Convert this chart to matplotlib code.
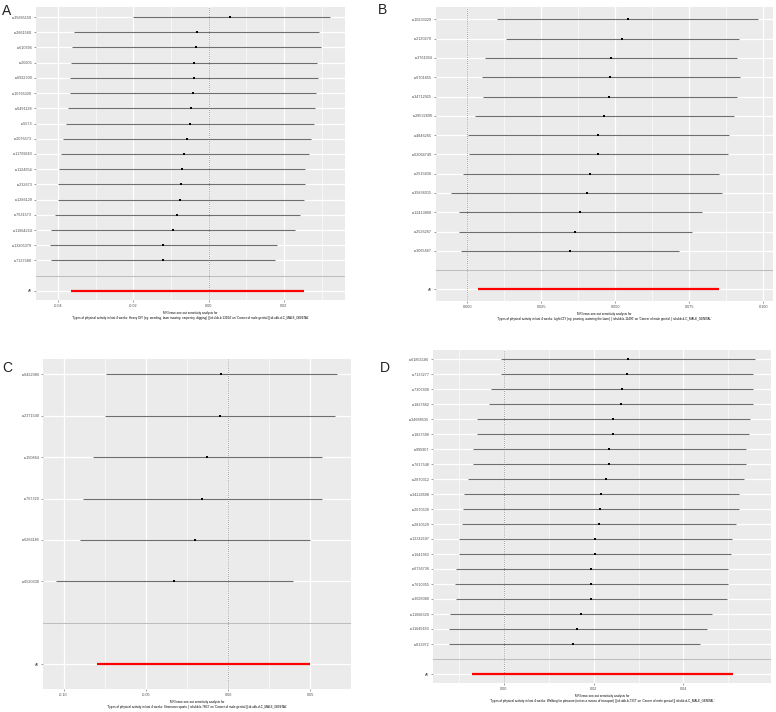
import matplotlib
matplotlib.use("Agg")
import matplotlib.pyplot as plt
import numpy as np

# ---------------- data ----------------
A_snps = ["rs35685150", "rs2661560", "rs610394", "rs20205", "rs6932300", "rs10765320",
          "rs6491128", "rs5573", "rs2076573", "rs11769840", "rs1124654", "rs232673",
          "rs1286129", "rs7631573", "rs11664224", "rs13205379", "rs7137580"]
A_b = [0.0058, -0.0032, -0.0034, -0.0039, -0.0040, -0.0042, -0.0046, -0.0049, -0.0056,
       -0.0064, -0.0071, -0.0073, -0.0075, -0.0083, -0.0095, -0.0120, -0.0122]
A_lo = [-0.0201, -0.0357, -0.0363, -0.0366, -0.0369, -0.0368, -0.0374, -0.0378, -0.0386,
        -0.0392, -0.0397, -0.0399, -0.0400, -0.0408, -0.0417, -0.0420, -0.0419]
A_hi = [0.0323, 0.0294, 0.0298, 0.0289, 0.0291, 0.0286, 0.0283, 0.0281, 0.0273,
        0.0266, 0.0257, 0.0255, 0.0252, 0.0243, 0.0230, 0.0182, 0.0177]
A_all = (-0.0057, -0.0366, 0.0252)
A_ticks = [-0.04, -0.02, 0.00, 0.02]
A_ticklabels = ["-0.04", "-0.02", "0.00", "0.02"]
A_title = ("MR leave-one-out sensitivity analysis for\n'Types of physical activity in last 4 weeks: "
           "Heavy DIY (eg: weeding, lawn mowing, carpentry, digging) || id:ukb-b-13184' on "
           "'Cancer of male genital || id:ukb-d-C_MALE_GENITAL'")

B_snps = ["rs10233329", "rs2130270", "rs3761934", "rs6701855", "rs34712925", "rs28532699",
          "rs4846265", "rs62064749", "rs2515836", "rs35836015", "rs12413860", "rs2526267",
          "rs3065667"]
B_b = [0.0542, 0.0524, 0.0485, 0.0483, 0.0479, 0.0461, 0.0443, 0.0443, 0.0416, 0.0403,
       0.0381, 0.0365, 0.0347]
B_lo = [0.0099, 0.0131, 0.0060, 0.0051, 0.0052, 0.0025, 0.0003, 0.0006, -0.0016, -0.0054,
        -0.0028, -0.0028, -0.0021]
B_hi = [0.0983, 0.0917, 0.0913, 0.0920, 0.0910, 0.0900, 0.0883, 0.0882, 0.0850, 0.0861,
        0.0793, 0.0758, 0.0716]
B_all = (0.0443, 0.0036, 0.0850)
B_ticks = [0.000, 0.025, 0.050, 0.075, 0.100]
B_ticklabels = ["0.000", "0.025", "0.050", "0.075", "0.100"]
B_title = ("MR leave-one-out sensitivity analysis for\n'Types of physical activity in last 4 weeks: "
           "Light DIY (eg: pruning, watering the lawn) || id:ukb-b-11490' on "
           "'Cancer of male genital || id:ukb-d-C_MALE_GENITAL'")

C_snps = ["rs6422086", "rs2371540", "rs150864", "rs767320", "rs6266185", "rs6520330"]
C_b = [-0.0045, -0.0049, -0.0126, -0.0158, -0.0202, -0.0326]
C_lo = [-0.0743, -0.0747, -0.0822, -0.0883, -0.0901, -0.1043]
C_hi = [0.0660, 0.0652, 0.0571, 0.0573, 0.0496, 0.0393]
C_all = (-0.0150, -0.0794, 0.0496)
C_ticks = [-0.10, -0.05, 0.00, 0.05]
C_ticklabels = ["-0.10", "-0.05", "0.00", "0.05"]
C_title = ("MR leave-one-out sensitivity analysis for\n'Types of physical activity in last 4 weeks: "
           "Strenuous sports || id:ukb-b-7663' on 'Cancer of male genital || id:ukb-d-C_MALE_GENITAL'")

D_snps = ["rs61855186", "rs7133277", "rs7307400", "rs1827662", "rs34688535", "rs1827599",
          "rs995907", "rs7617548", "rs2870312", "rs34224598", "rs2670539", "rs2810529",
          "rs12342197", "rs1641943", "rs6736736", "rs7610355", "rs3028080", "rs11668320",
          "rs11649180", "rs813972"]
D_b = [0.0277, 0.0275, 0.0263, 0.0260, 0.0243, 0.0243, 0.0233, 0.0234, 0.0227, 0.0217,
       0.0215, 0.0211, 0.0203, 0.0202, 0.0195, 0.0194, 0.0194, 0.0171, 0.0163, 0.0155]
D_lo = [-0.0007, -0.0006, -0.0028, -0.0033, -0.0059, -0.0059, -0.0070, -0.0070, -0.0079,
        -0.0088, -0.0091, -0.0094, -0.0100, -0.0101, -0.0106, -0.0108, -0.0106, -0.0121,
        -0.0123, -0.0123]
D_hi = [0.0560, 0.0555, 0.0554, 0.0554, 0.0548, 0.0545, 0.0539, 0.0539, 0.0535, 0.0524,
        0.0524, 0.0517, 0.0508, 0.0506, 0.0500, 0.0499, 0.0496, 0.0464, 0.0452, 0.0436]
D_all = (0.0219, -0.0071, 0.0511)
D_ticks = [0.00, 0.02, 0.04]
D_ticklabels = ["0.00", "0.02", "0.04"]
D_title = ("MR leave-one-out sensitivity analysis for\n'Types of physical activity in last 4 weeks: "
           "Walking for pleasure (not as a means of transport) || id:ukb-b-7337' on "
           "'Cancer of male genital || id:ukb-d-C_MALE_GENITAL'")

panel_letters = ["A", "B", "C", "D"]

# ---------------- figure ----------------
W, H = 776, 712
plt.rcParams['font.family'] = ['Liberation Sans', 'DejaVu Sans']
fig = plt.figure(figsize=(W / 100, H / 100), dpi=100)


def px_axes(l, r, t, b):
    return fig.add_axes([l / W, 1 - b / H, (r - l) / W, (b - t) / H])


def panel(ax, snps, b, lo, hi, allv, ticks, ticklabels, xlim, title, top_pad):
    n = len(snps)
    ypos = np.arange(n + 2, 2, -1)  # SNPs at n+2 .. 3
    ax.set_facecolor("#EBEBEB")
    for s in ax.spines.values():
        s.set_visible(False)
    ax.set_xlim(*xlim)
    ax.set_ylim(0.4, n + 2 + top_pad)
    ax.set_xticks(ticks)
    ax.set_xticklabels(ticklabels)
    step = ticks[1] - ticks[0]
    minors = [t + step / 2 for t in [ticks[0] - step] + list(ticks)]
    minors = [m for m in minors if xlim[0] < m < xlim[1]]
    for m in minors:
        ax.axvline(m, color="white", lw=0.45, zorder=0)
    for t in ticks:
        ax.axvline(t, color="white", lw=0.9, zorder=0)
    for y in list(ypos) + [2, 1]:
        ax.axhline(y, color="white", lw=0.9, zorder=0)
    ax.set_yticks(list(ypos) + [1])
    ax.set_yticklabels(list(snps) + ["All"])
    ax.axhline(2, color="#BEBEBE", lw=0.8, zorder=1)
    ax.axvline(0, color="#777777", lw=0.6, ls=(0, (1, 1.5)), zorder=1)
    ax.hlines(ypos, lo, hi, color="#6E6E6E", lw=0.8, zorder=2)
    ax.plot(b, ypos, "s", color="black", ms=1.9, zorder=3, mec="black", mew=0)
    ax.hlines([1], [allv[1]], [allv[2]], color="#FF0000", lw=1.6, zorder=2)
    ax.plot([allv[0]], [1], "s", color="#FF0000", ms=1.6, zorder=3, mew=0)
    ax.tick_params(axis="both", labelsize=2.7, length=1.5, width=0.4, color="#555555",
                   labelcolor="#4D4D4D", pad=1.2)
    ax.set_xlabel(title, fontsize=2.2, labelpad=2.2, color="black", linespacing=1.3)


axA = px_axes(36, 345, 7, 300)
panel(axA, A_snps, A_b, A_lo, A_hi, A_all, A_ticks, A_ticklabels, (-0.0458, 0.0362), A_title, 0.66)
axB = px_axes(436, 773, 7, 301)
panel(axB, B_snps, B_b, B_lo, B_hi, B_all, B_ticks, B_ticklabels, (-0.0106, 0.1033), B_title, 0.64)
axC = px_axes(43, 351, 359, 689)
panel(axC, C_snps, C_b, C_lo, C_hi, C_all, C_ticks, C_ticklabels, (-0.1125, 0.0747), C_title, 0.37)
axD = px_axes(433, 771, 350, 683)
panel(axD, D_snps, D_b, D_lo, D_hi, D_all, D_ticks, D_ticklabels, (-0.0158, 0.0595), D_title, 0.6)

for letter, (x, y) in zip(panel_letters, [(2, 11), (378, 10), (2, 368), (380, 368)]):
    fig.text(x / W, 1 - y / H, letter, fontsize=10, ha="left", va="center", color="#222222")

fig.savefig("out.png", dpi=100, facecolor="white")
